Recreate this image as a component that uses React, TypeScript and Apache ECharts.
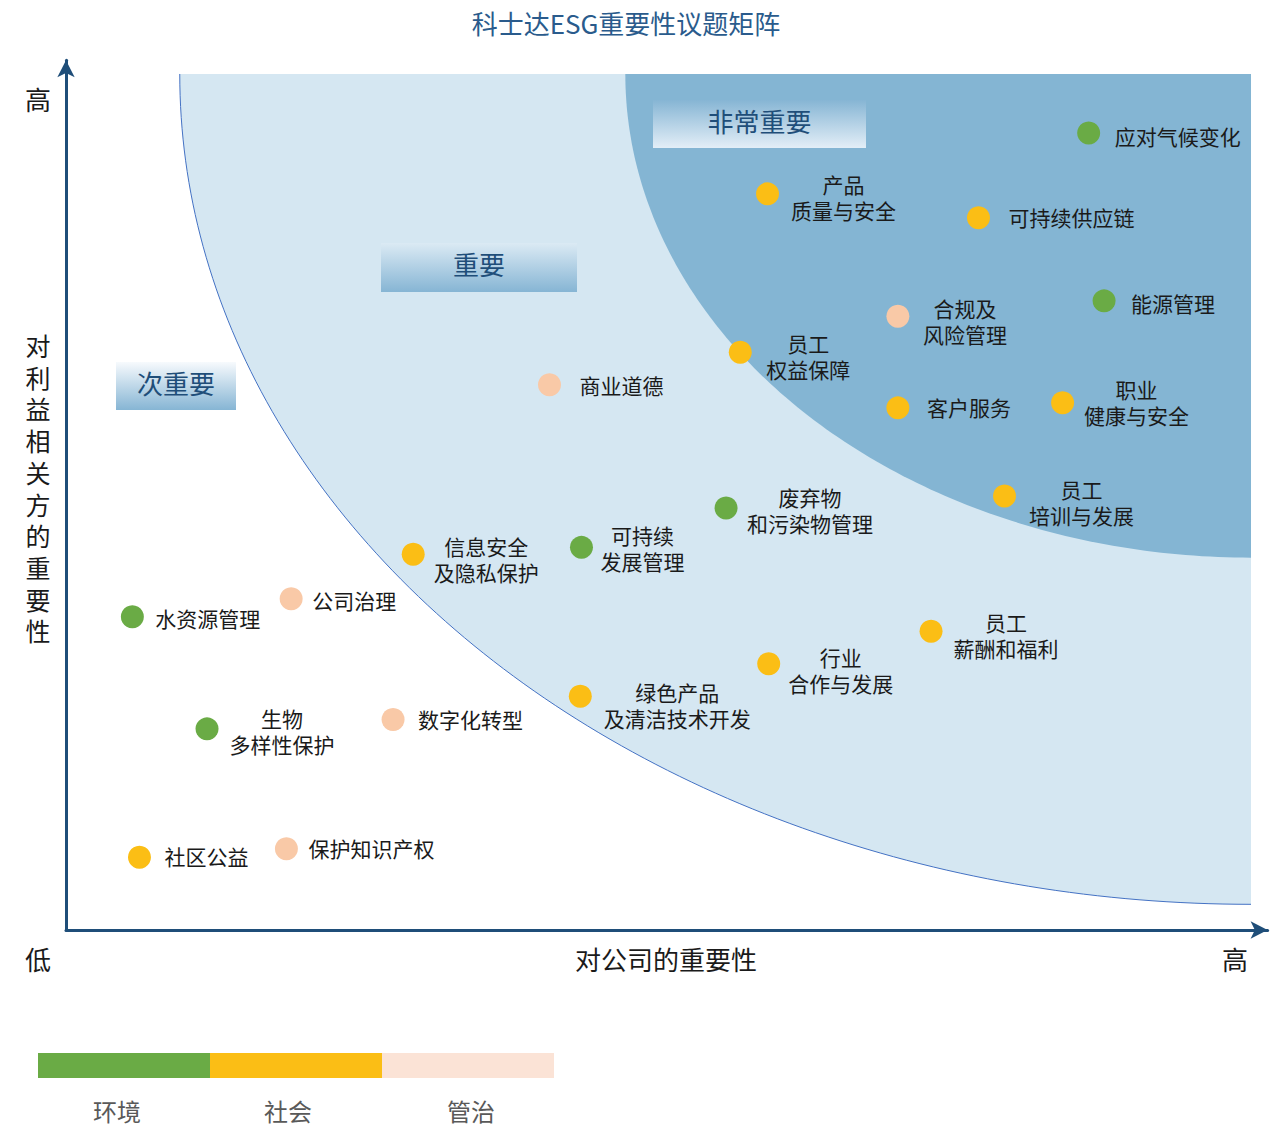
import React, { useEffect, useRef } from "react";
import * as echarts from "echarts";

// ---------- data ----------
const topicNames = [
  "应对气候变化", "产品\n质量与安全", "可持续供应链", "能源管理", "合规及\n风险管理",
  "员工\n权益保障", "商业道德", "客户服务", "职业\n健康与安全", "员工\n培训与发展",
  "废弃物\n和污染物管理", "可持续\n发展管理", "信息安全\n及隐私保护", "公司治理", "水资源管理",
  "员工\n薪酬和福利", "行业\n合作与发展", "绿色产品\n及清洁技术开发", "数字化转型", "生物\n多样性保护",
  "社区公益", "保护知识产权",
];
const topicCategory = [
  "环境", "社会", "社会", "环境", "管治",
  "社会", "管治", "社会", "社会", "社会",
  "环境", "环境", "社会", "管治", "环境",
  "社会", "社会", "社会", "管治", "环境",
  "社会", "管治",
];
// 对公司的重要性 (x)
const companyImportance = [
  8.63, 5.92, 7.70, 8.76, 7.02,
  5.69, 4.08, 7.02, 8.41, 7.92,
  5.57, 4.35, 2.93, 1.90, 0.56,
  7.30, 5.93, 4.34, 2.76, 1.19,
  0.62, 1.86,
];
// 对利益相关方的重要性 (y)
const stakeholderImportance = [
  9.31, 8.60, 8.32, 7.35, 7.17,
  6.75, 6.37, 6.10, 6.16, 5.07,
  4.93, 4.47, 4.39, 3.87, 3.66,
  3.49, 3.11, 2.73, 2.46, 2.35,
  0.85, 0.95,
];

const categories = ["环境", "社会", "管治"];
const categoryColors = ["#6aab45", "#fbbe15", "#f9c9a7"];
const legendColors = ["#6aab45", "#fbbe15", "#fbe3d6"];

// zones: quarter ellipses measured from the top-right corner (10, 10)
const zoneNames = ["重要", "非常重要"];
const zoneRadiusX = [9.04, 5.28];
const zoneRadiusY = [9.7, 5.65];
const zoneColors = ["#d5e7f2", "#84b5d3"];

const yAxisTitle = ["对", "利", "益", "相", "关", "方", "的", "重", "要", "性"];

const AXIS_MAX_X = 10.14;
const AXIS_MAX_Y = 10.16;

// label layout per topic: [dx, dy, align]
const labelLayout: Record<string, [number, number, string]> = {
  "应对气候变化": [26, 3, "left"],
  "产品\n质量与安全": [76, 3, "center"],
  "可持续供应链": [30, -1, "left"],
  "能源管理": [27, 2, "left"],
  "合规及\n风险管理": [67, 5, "center"],
  "员工\n权益保障": [68, 4, "center"],
  "商业道德": [30, 0, "left"],
  "客户服务": [29, -1, "left"],
  "职业\n健康与安全": [74, -1, "center"],
  "员工\n培训与发展": [77, 6, "center"],
  "废弃物\n和污染物管理": [84, 2, "center"],
  "可持续\n发展管理": [61, 1, "center"],
  "信息安全\n及隐私保护": [73, 5, "center"],
  "公司治理": [21, 1, "left"],
  "水资源管理": [23, 1, "left"],
  "员工\n薪酬和福利": [75, 4, "center"],
  "行业\n合作与发展": [72, 6, "center"],
  "绿色产品\n及清洁技术开发": [97, 9, "center"],
  "数字化转型": [25, 0, "left"],
  "生物\n多样性保护": [75, 2, "center"],
  "社区公益": [25, -1, "left"],
  "保护知识产权": [22, -1, "left"],
};

const FONT = '"Noto Sans CJK SC", "Noto Sans", sans-serif';

function buildOption() {
  const scatterSeries = categories.map((cat, ci) => ({
    name: cat,
    type: "scatter",
    z: 5,
    symbol: "circle",
    symbolSize: 23,
    itemStyle: { color: categoryColors[ci], opacity: 1 },
    data: topicNames
      .map((n, i) => ({ n, i }))
      .filter(({ i }) => topicCategory[i] === cat)
      .map(({ n, i }) => {
        const lay = labelLayout[n] || [25, 0, "left"];
        return {
          name: n,
          value: [companyImportance[i], stakeholderImportance[i]],
          label: {
            show: true,
            position: "inside",
            formatter: "{b}",
            offset: [lay[0], lay[1]],
            align: lay[2],
            verticalAlign: "middle",
            color: "#1a1a1a",
            fontSize: 21,
            lineHeight: 26,
            fontFamily: FONT,
          },
        };
      }),
  }));

  const zoneSeries = {
    type: "custom",
    z: 1,
    silent: true,
    data: zoneNames.map(() => [10, 10]),
    encode: { x: 0, y: 1 },
    renderItem: (params: any, api: any) => {
      const i = params.dataIndex;
      const rx = zoneRadiusX[i];
      const ry = zoneRadiusY[i];
      const curve: number[][] = [];
      const N = 120;
      for (let k = 0; k <= N; k++) {
        const t = (k / N) * (Math.PI / 2);
        curve.push(api.coord([10 - rx * Math.cos(t), 10 - ry * Math.sin(t)]));
      }
      const poly = [api.coord([10, 10]), ...curve];
      const children: any[] = [
        { type: "polygon", shape: { points: poly }, style: { fill: zoneColors[i] } },
      ];
      if (i === 0) {
        children.push({
          type: "polyline",
          shape: { points: curve },
          style: { stroke: "#4472c4", lineWidth: 1, fill: null },
        });
      }
      return { type: "group", children };
    },
  };

  const badge = (x: number, y: number, w: number, h: number, text: string, stops: string[]) => [
    {
      type: "rect",
      z: 100,
      shape: { x, y, width: w, height: h },
      style: {
        fill: {
          type: "linear",
          x: 0,
          y: 0,
          x2: 0,
          y2: 1,
          colorStops: [
            { offset: 0, color: stops[0] },
            { offset: 1, color: stops[1] },
          ],
        },
      },
    },
    {
      type: "text",
      z: 101,
      x: x + w / 2,
      y: y + h / 2 - 4,
      style: {
        text,
        fill: "#1f4e79",
        font: `26px ${FONT}`,
        textAlign: "center",
        textVerticalAlign: "middle",
      },
    },
  ];

  const plainText = (x: number, y: number, text: string, size: number, color: string) => ({
    type: "text",
    x,
    y,
    z: 100,
    style: {
      text,
      fill: color,
      font: `${size}px ${FONT}`,
      lineHeight: size,
      textAlign: "center",
      textVerticalAlign: "middle",
    },
  });

  const legendX = [38, 210, 382];
  const legendW = 172;
  const legendLabelX = [117, 288, 471];

  const graphic: any[] = [
    plainText(626, 22, "科士达ESG重要性议题矩阵", 26, "#2a5b8c"),
    plainText(38, 98, "高", 26, "#1a1a1a"),
    plainText(38, 958, "低", 26, "#1a1a1a"),
    plainText(1235, 958, "高", 26, "#1a1a1a"),
    plainText(666, 958, "对公司的重要性", 26, "#1a1a1a"),
    ...badge(653, 100, 213, 48, "非常重要", ["#86b5d4", "#e3eef7"]),
    ...badge(381, 243, 196, 49, "重要", ["#dbeaf4", "#86b5d4"]),
    ...badge(116, 362, 120, 48, "次重要", ["#f7fafd", "#86b5d4"]),
  ];
  yAxisTitle.forEach((ch, k) => {
    graphic.push(plainText(38, 345 + 31.7 * k, ch, 25, "#1a1a1a"));
  });
  categories.forEach((cat, i) => {
    graphic.push({
      type: "rect",
      z: 100,
      shape: { x: legendX[i], y: 1053, width: legendW, height: 25 },
      style: { fill: legendColors[i] },
    });
    graphic.push(plainText(legendLabelX[i], 1110, cat, 24, "#595959"));
  });

  return {
    animation: false,
    backgroundColor: "#ffffff",
    textStyle: { fontFamily: FONT },
    grid: { left: 66, right: 14.4, top: 60.3, bottom: 196 },
    xAxis: {
      type: "value",
      min: 0,
      max: AXIS_MAX_X,
      axisLine: {
        show: true,
        symbol: ["none", "arrow"],
        symbolSize: [13, 17],
        lineStyle: { color: "#1f4e79", width: 3 },
      },
      axisTick: { show: false },
      axisLabel: { show: false },
      splitLine: { show: false },
    },
    yAxis: {
      type: "value",
      min: 0,
      max: AXIS_MAX_Y,
      axisLine: {
        show: true,
        symbol: ["none", "arrow"],
        symbolSize: [13, 17],
        lineStyle: { color: "#1f4e79", width: 3 },
      },
      axisTick: { show: false },
      axisLabel: { show: false },
      splitLine: { show: false },
    },
    series: [zoneSeries, ...scatterSeries],
    graphic,
  };
}

export default function App() {
  const ref = useRef<HTMLDivElement>(null);
  useEffect(() => {
    if (!ref.current) return;
    const chart = echarts.init(ref.current, undefined, { renderer: "svg" });
    chart.setOption(buildOption() as any);
    return () => chart.dispose();
  }, []);
  return (
    <div
      ref={ref}
      style={{ position: "fixed", left: 0, top: 0, width: 1282, height: 1126, background: "#fff" }}
    />
  );
}
